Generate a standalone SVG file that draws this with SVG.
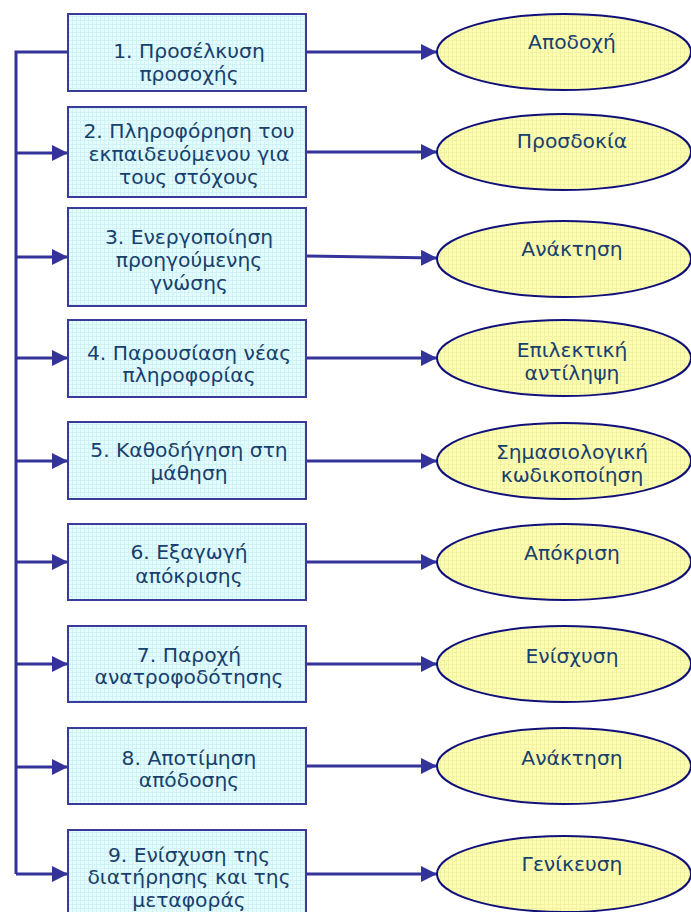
<svg xmlns="http://www.w3.org/2000/svg" width="691" height="912" viewBox="0 0 691 912">
  <defs>
    <!-- fine grid textures for the step boxes and the outcome ellipses -->
    <pattern id="gridCyan" width="4" height="4" patternUnits="userSpaceOnUse">
      <rect width="4" height="4" fill="#E4FDFE"/>
      <path d="M0 0.5H4M0.5 0V4" stroke="#D0F2F5" stroke-width="1"/>
    </pattern>
    <pattern id="gridYellow" width="4" height="4" patternUnits="userSpaceOnUse">
      <rect width="4" height="4" fill="#FFFFB2"/>
      <path d="M0 0.5H4M0.5 0V4" stroke="#F2F2A4" stroke-width="1"/>
    </pattern>
    <marker id="arrow" viewBox="0 0 16 16" refX="16" refY="8" markerWidth="16" markerHeight="16" markerUnits="userSpaceOnUse" orient="auto">
      <path d="M0 0L16 8L0 16Z" fill="#333399"/>
    </marker>
  </defs>
  <style>
    .box { fill: url(#gridCyan); stroke: #3A3A9A; stroke-width: 2; }
    .oval { fill: url(#gridYellow); stroke: #10107A; stroke-width: 2; }
    .lbl { font-family: "DejaVu Sans", Verdana, sans-serif; font-size: 20.3px; fill: #17406D; text-anchor: middle; }
    .wire { fill: none; stroke: #333399; stroke-width: 3; }
  </style>

  <rect width="691" height="912" fill="#FFFFFF"/>

  <!-- connectors -->
  <g id="connectors">
    <!-- feed bus on the left -->
    <path class="wire" d="M68 52H16V874"/>
    <path class="wire" d="M16 153H68" marker-end="url(#arrow)"/>
    <path class="wire" d="M16 257H68" marker-end="url(#arrow)"/>
    <path class="wire" d="M16 358H68" marker-end="url(#arrow)"/>
    <path class="wire" d="M16 461H68" marker-end="url(#arrow)"/>
    <path class="wire" d="M16 562H68" marker-end="url(#arrow)"/>
    <path class="wire" d="M16 664H68" marker-end="url(#arrow)"/>
    <path class="wire" d="M16 767H68" marker-end="url(#arrow)"/>
    <path class="wire" d="M16 874H68" marker-end="url(#arrow)"/>
    <!-- step to outcome -->
    <path class="wire" d="M306 52H437" marker-end="url(#arrow)"/>
    <path class="wire" d="M306 152H437" marker-end="url(#arrow)"/>
    <path class="wire" d="M306 256L437 258" marker-end="url(#arrow)"/>
    <path class="wire" d="M306 358H437" marker-end="url(#arrow)"/>
    <path class="wire" d="M306 461H437" marker-end="url(#arrow)"/>
    <path class="wire" d="M306 562H437" marker-end="url(#arrow)"/>
    <path class="wire" d="M306 664H437" marker-end="url(#arrow)"/>
    <path class="wire" d="M306 766H437" marker-end="url(#arrow)"/>
    <path class="wire" d="M306 874H437" marker-end="url(#arrow)"/>
  </g>

  <!-- steps -->
  <g id="step1">
    <rect class="box" x="68" y="14" width="238" height="77"/>
    <text class="lbl" x="189" y="58">1. Προσέλκυση</text>
    <text class="lbl" x="189" y="81">προσοχής</text>
  </g>
  <g id="step2">
    <rect class="box" x="68" y="107" width="238" height="90"/>
    <text class="lbl" x="189" y="138">2. Πληροφόρηση του</text>
    <text class="lbl" x="189" y="161">εκπαιδευόμενου για</text>
    <text class="lbl" x="189" y="184">τους στόχους</text>
  </g>
  <g id="step3">
    <rect class="box" x="68" y="208" width="238" height="98"/>
    <text class="lbl" x="189" y="244">3. Ενεργοποίηση</text>
    <text class="lbl" x="189" y="267">προηγούμενης</text>
    <text class="lbl" x="189" y="290">γνώσης</text>
  </g>
  <g id="step4">
    <rect class="box" x="68" y="320" width="238" height="77"/>
    <text class="lbl" x="189" y="360">4. Παρουσίαση νέας</text>
    <text class="lbl" x="189" y="382">πληροφορίας</text>
  </g>
  <g id="step5">
    <rect class="box" x="68" y="422" width="238" height="77"/>
    <text class="lbl" x="189" y="457">5. Καθοδήγηση στη</text>
    <text class="lbl" x="189" y="480">μάθηση</text>
  </g>
  <g id="step6">
    <rect class="box" x="68" y="524" width="238" height="76"/>
    <text class="lbl" x="189" y="559">6. Εξαγωγή</text>
    <text class="lbl" x="189" y="583">απόκρισης</text>
  </g>
  <g id="step7">
    <rect class="box" x="68" y="626" width="238" height="76"/>
    <text class="lbl" x="189" y="662">7. Παροχή</text>
    <text class="lbl" x="189" y="684">ανατροφοδότησης</text>
  </g>
  <g id="step8">
    <rect class="box" x="68" y="728" width="238" height="76"/>
    <text class="lbl" x="189" y="765">8. Αποτίμηση</text>
    <text class="lbl" x="189" y="787">απόδοσης</text>
  </g>
  <g id="step9">
    <rect class="box" x="68" y="830" width="238" height="92"/>
    <text class="lbl" x="189" y="862">9. Ενίσχυση της</text>
    <text class="lbl" x="189" y="884">διατήρησης και της</text>
    <text class="lbl" x="189" y="907">μεταφοράς</text>
  </g>

  <!-- outcomes -->
  <g id="outcome1">
    <ellipse class="oval" cx="564" cy="52" rx="127" ry="38"/>
    <text class="lbl" x="572" y="49">Αποδοχή</text>
  </g>
  <g id="outcome2">
    <ellipse class="oval" cx="564" cy="152" rx="127" ry="38"/>
    <text class="lbl" x="572" y="148">Προσδοκία</text>
  </g>
  <g id="outcome3">
    <ellipse class="oval" cx="564" cy="259" rx="127" ry="38"/>
    <text class="lbl" x="572" y="256">Ανάκτηση</text>
  </g>
  <g id="outcome4">
    <ellipse class="oval" cx="564" cy="358" rx="127" ry="38"/>
    <text class="lbl" x="572" y="357">Επιλεκτική</text>
    <text class="lbl" x="572" y="380">αντίληψη</text>
  </g>
  <g id="outcome5">
    <ellipse class="oval" cx="564" cy="461" rx="127" ry="38"/>
    <text class="lbl" x="572" y="459">Σημασιολογική</text>
    <text class="lbl" x="572" y="482">κωδικοποίηση</text>
  </g>
  <g id="outcome6">
    <ellipse class="oval" cx="564" cy="562" rx="127" ry="38"/>
    <text class="lbl" x="572" y="560">Απόκριση</text>
  </g>
  <g id="outcome7">
    <ellipse class="oval" cx="564" cy="664" rx="127" ry="38"/>
    <text class="lbl" x="572" y="663">Ενίσχυση</text>
  </g>
  <g id="outcome8">
    <ellipse class="oval" cx="564" cy="766" rx="127" ry="38"/>
    <text class="lbl" x="572" y="765">Ανάκτηση</text>
  </g>
  <g id="outcome9">
    <ellipse class="oval" cx="564" cy="874" rx="127" ry="38"/>
    <text class="lbl" x="572" y="871">Γενίκευση</text>
  </g>
</svg>
